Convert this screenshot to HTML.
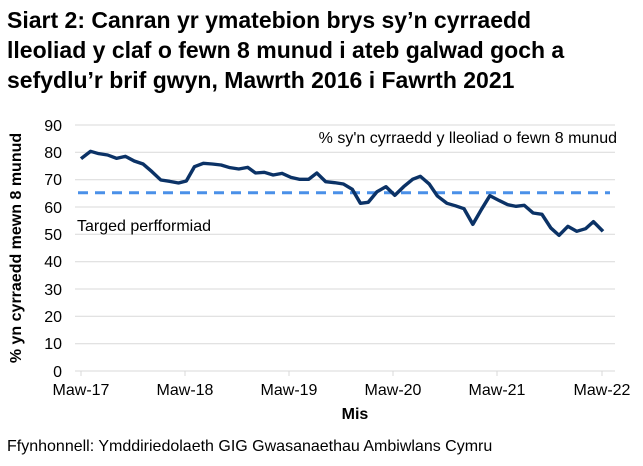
<!DOCTYPE html>
<html><head><style>
body{margin:0;background:#fff;}
svg{display:block;font-family:"Liberation Sans",Arial,sans-serif;}
</style></head><body>
<svg width="643" height="466" viewBox="0 0 643 466">
<g font-weight="bold" font-size="23" fill="#000">
<text x="7" y="28">Siart 2: Canran yr ymatebion brys sy’n cyrraedd</text>
<text x="7" y="58">lleoliad y claf o fewn 8 munud i ateb galwad goch a</text>
<text x="7" y="88">sefydlu’r brif gwyn, Mawrth 2016 i Fawrth 2021</text>
</g>
<g stroke="#d9d9d9" stroke-width="1">
<line x1="75" x2="615" y1="125" y2="125"/><line x1="75" x2="615" y1="152.3" y2="152.3"/>
<line x1="75" x2="615" y1="179.7" y2="179.7"/><line x1="75" x2="615" y1="207" y2="207"/>
<line x1="75" x2="615" y1="234.3" y2="234.3"/><line x1="75" x2="615" y1="261.7" y2="261.7"/>
<line x1="75" x2="615" y1="289" y2="289"/><line x1="75" x2="615" y1="316.3" y2="316.3"/>
<line x1="75" x2="615" y1="343.7" y2="343.7"/><line x1="75" x2="615" y1="371" y2="371"/>
<line x1="81" x2="81" y1="371" y2="376"/><line x1="185" x2="185" y1="371" y2="376"/>
<line x1="289" x2="289" y1="371" y2="376"/><line x1="393" x2="393" y1="371" y2="376"/>
<line x1="497" x2="497" y1="371" y2="376"/><line x1="602" x2="602" y1="371" y2="376"/>
</g>
<g font-size="16" fill="#000" text-anchor="end">
<text x="62" y="131">90</text><text x="62" y="158">80</text><text x="62" y="185">70</text>
<text x="62" y="213">60</text><text x="62" y="240">50</text><text x="62" y="267">40</text>
<text x="62" y="295">30</text><text x="62" y="322">20</text><text x="62" y="349">10</text>
<text x="62" y="377">0</text>
</g>
<g font-size="16" fill="#000" text-anchor="middle">
<text x="81" y="395">Maw-17</text><text x="185" y="395">Maw-18</text><text x="289" y="395">Maw-19</text>
<text x="393" y="395">Maw-20</text><text x="497" y="395">Maw-21</text><text x="602" y="395">Maw-22</text>
<text x="355" y="419" font-weight="bold">Mis</text>
</g>
<text transform="translate(21,248) rotate(-90)" font-size="16" font-weight="bold" text-anchor="middle">% yn cyrraedd mewn 8 munud</text>
<line x1="78" x2="610" y1="192.7" y2="192.7" stroke="#4a90e8" stroke-width="3" stroke-dasharray="10,7"/>
<g transform="matrix(0.3546,0,0,0.3333,61.5,110)">
<polyline fill="none" stroke="#0b3266" stroke-width="10" stroke-linejoin="round" points="55,146 82,124 105,131 130,135 155,145 180,139 205,153 230,162 255,185 280,210 305,214 330,219 352,213 375,170 400,160 425,162 450,165 475,173 500,177 525,172 547,189 572,187 597,195 622,190 647,202 672,208 697,208 720,189 745,215 770,218 795,222 820,238 843,280 865,277 890,245 915,230 940,256 965,230 990,208 1012,199 1037,222 1060,258 1087,280 1110,287 1135,296 1160,343 1185,297 1208,257 1235,272 1258,284 1282,289 1305,286 1330,309 1355,313 1380,354 1403,376 1428,349 1453,364 1478,356 1500,335 1527,364"/>
</g>
<text x="617" y="143" font-size="16" text-anchor="end">% sy'n cyrraedd y lleoliad o fewn 8 munud</text>
<text x="77" y="231" font-size="16">Targed perfformiad</text>
<text x="7" y="451" font-size="16">Ffynhonnell: Ymddiriedolaeth GIG Gwasanaethau Ambiwlans Cymru</text>
</svg>
</body></html>
